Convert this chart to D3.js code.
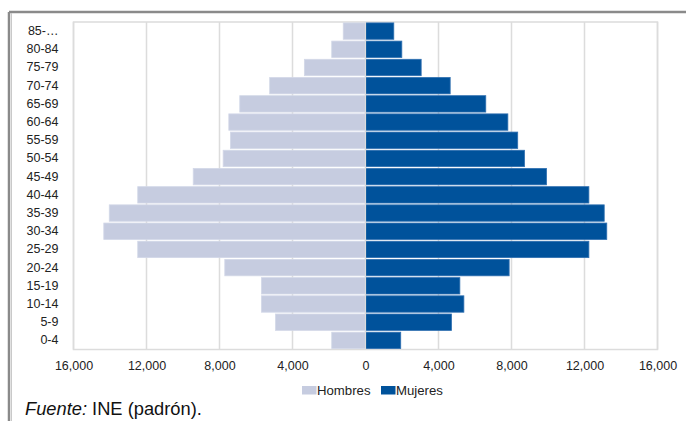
<!DOCTYPE html>
<html>
<head>
<meta charset="utf-8">
<script src="https://cdn.jsdelivr.net/npm/d3@7/dist/d3.min.js"></script>
<style>
  html, body { margin: 0; padding: 0; background: #fff; }
  svg { display: block; font-family: "Liberation Sans", Arial, sans-serif; }
</style>
</head>
<body>
<svg id="chart" width="686" height="421"></svg>
<script>
// Age groups, oldest at the top
const ageGroups = ["85-…","80-84","75-79","70-74","65-69","60-64","55-59","50-54","45-49",
                   "40-44","35-39","30-34","25-29","20-24","15-19","10-14","5-9","0-4"];
// Population per age group
const hombres = [1220, 1850, 3350, 5250, 6890, 7490, 7400, 7800, 9440,
                 12480, 14040, 14340, 12480, 7710, 5700, 5700, 4930, 1850];
const mujeres = [1550, 1990, 3050, 4640, 6590, 7800, 8340, 8710, 9920,
                 12240, 13080, 13220, 12240, 7870, 5170, 5390, 4710, 1930];
const tickValues = [-16000, -12000, -8000, -4000, 0, 4000, 8000, 12000, 16000];
const seriesNames = ["Hombres", "Mujeres"];

const colors = { Hombres: "#c6cce0", Mujeres: "#00529b" };
const strokes = { Hombres: "#d3d8e8", Mujeres: "#2f6fb0" };

const svg = d3.select("#chart");
const plot = { left: 73.5, right: 657.5, top: 22, bottom: 349.5 };

const x = d3.scaleLinear().domain([-16000, 16000]).range([plot.left, plot.right]);
const y = d3.scaleBand().domain(ageGroups).range([plot.top, plot.bottom]).paddingInner(0.1).paddingOuter(0.05);

// Outer frame (top and left edges)
const frame = svg.append("g");
[[9, 12, 686, 12], [9, 12, 9, 421]].forEach(([x1, y1, x2, y2]) => {
  frame.append("line").attr("x1", x1).attr("y1", y1).attr("x2", x2).attr("y2", y2)
    .attr("stroke", "#8a8a8a").attr("stroke-width", 2.5);
});
frame.append("line").attr("x1", 11.5).attr("y1", 13).attr("x2", 11.5).attr("y2", 421)
  .attr("stroke", "#c9c9c9").attr("stroke-width", 1);

// Plot border and vertical gridlines
svg.append("rect")
  .attr("x", plot.left).attr("y", plot.top)
  .attr("width", plot.right - plot.left).attr("height", plot.bottom - plot.top)
  .attr("fill", "none").attr("stroke", "#dcdcdc").attr("stroke-width", 1.5);

svg.append("g").selectAll("line").data(tickValues).join("line")
  .attr("x1", d => x(d)).attr("x2", d => x(d))
  .attr("y1", plot.top).attr("y2", plot.bottom)
  .attr("stroke", "#dcdcdc").attr("stroke-width", 1.5);

// Bars
const bars = svg.append("g");
bars.selectAll("rect.h").data(ageGroups).join("rect")
  .attr("class", "h")
  .attr("x", (d, i) => x(-hombres[i]))
  .attr("y", d => y(d))
  .attr("width", (d, i) => x(0) - x(-hombres[i]))
  .attr("height", y.bandwidth())
  .attr("fill", colors.Hombres).attr("stroke", strokes.Hombres).attr("stroke-width", 0.8);

bars.selectAll("rect.m").data(ageGroups).join("rect")
  .attr("class", "m")
  .attr("x", x(0))
  .attr("y", d => y(d))
  .attr("width", (d, i) => x(mujeres[i]) - x(0))
  .attr("height", y.bandwidth())
  .attr("fill", colors.Mujeres).attr("stroke", strokes.Mujeres).attr("stroke-width", 0.8);

// Zero line
svg.append("line")
  .attr("x1", x(0)).attr("x2", x(0)).attr("y1", plot.top).attr("y2", plot.bottom)
  .attr("stroke", "#dcdcdc").attr("stroke-width", 1.2);

// Y axis labels
const yAxis = d3.axisLeft(y).tickSize(0).tickPadding(0);
const yg = svg.append("g").attr("transform", `translate(${plot.left - 15},0)`).call(yAxis);
yg.select(".domain").remove();
yg.selectAll("text").attr("font-size", 12.5).attr("fill", "#222")
  .attr("font-family", "'Liberation Sans', Arial, sans-serif");

// X axis labels
const fmt = d3.format(",");
const xAxis = d3.axisBottom(x).tickValues(tickValues).tickSize(0).tickPadding(0)
  .tickFormat(d => fmt(Math.abs(d)));
const xg = svg.append("g").attr("transform", `translate(0,${plot.bottom + 12})`).call(xAxis);
xg.select(".domain").remove();
xg.selectAll("text").attr("font-size", 12.5).attr("fill", "#222")
  .attr("font-family", "'Liberation Sans', Arial, sans-serif");

// Legend
const legend = svg.append("g").attr("transform", "translate(302,386)");
const legendX = [0, 79];
seriesNames.forEach((name, i) => {
  const g = legend.append("g").attr("transform", `translate(${legendX[i]},0)`);
  g.append("rect").attr("width", 14.5).attr("height", 8.5).attr("fill", colors[name]);
  g.append("text").attr("x", 15).attr("y", 4.5).attr("dy", "0.35em")
    .attr("font-size", 13.2).attr("fill", "#222").text(name);
});

// Source note
const src = svg.append("text").attr("x", 25).attr("y", 415)
  .attr("font-size", 18.3).attr("fill", "#111");
src.append("tspan").attr("font-style", "italic").text("Fuente:");
src.append("tspan").text(" INE (padrón).");
</script>
</body>
</html>
